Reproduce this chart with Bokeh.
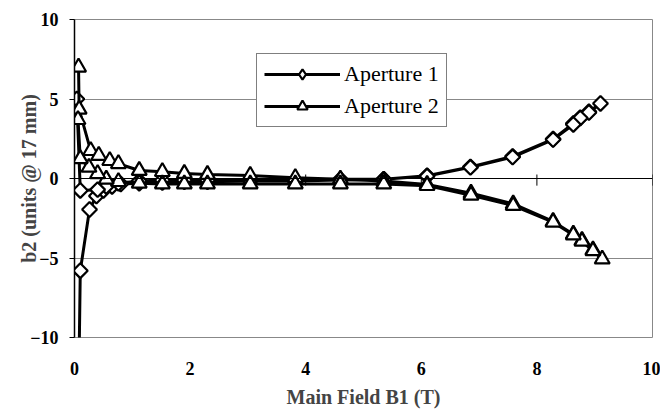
from bokeh.plotting import figure
from bokeh.models import Range1d, FixedTicker, Span, Legend, LegendItem
from bokeh.embed import file_html
from bokeh.resources import INLINE

# Aperture 1 (diamonds): ramp up then ramp down
ap1_x = [0.07, 0.10, 0.26, 0.38, 0.50, 0.65, 0.80, 1.12, 1.52, 1.90, 2.30, 3.04, 3.82, 4.60, 5.35,
         6.10, 6.85, 7.58, 8.28, 8.63, 8.75, 8.90, 9.10,
         8.90, 8.75, 8.63, 8.28, 7.58, 6.85, 6.10, 5.35, 4.60, 3.82, 3.04, 2.30, 1.90, 1.52, 1.12,
         0.76, 0.55, 0.40, 0.10, 0.04]
ap1_y = [-14.0, -5.8, -1.95, -1.1, -0.75, -0.5, -0.35, -0.3, -0.25, -0.2, -0.2, -0.15, -0.15, -0.1, -0.05,
         0.17, 0.73, 1.39, 2.48, 3.46, 3.83, 4.20, 4.72,
         4.15, 3.80, 3.40, 2.45, 1.35, 0.70, 0.15, -0.05, -0.05, -0.1, -0.1, -0.1, -0.1, -0.1, -0.15,
         -0.3, -0.5, -0.7, -0.75, 5.0]

# Aperture 2 (triangles): ramp up then ramp down
ap2_x = [0.07, 0.08, 0.28, 0.42, 0.61, 0.76, 1.12, 1.52, 1.90, 2.30, 3.04, 3.82, 4.60, 5.35,
         6.10, 6.86, 7.59, 8.28, 8.63, 8.78, 8.97, 9.13,
         8.97, 8.78, 8.63, 8.28, 7.59, 6.86, 6.10, 5.35, 4.60, 3.82, 3.04, 2.30, 1.90, 1.52, 1.12,
         0.76, 0.55, 0.40, 0.25, 0.10, 0.06]
ap2_y = [7.0, 4.35, 1.75, 1.45, 1.12, 0.93, 0.5, 0.43, 0.31, 0.25, 0.19, 0.05, -0.05, -0.15,
         -0.37, -0.93, -1.6, -2.7, -3.5, -3.9, -4.5, -5.07,
         -4.55, -3.95, -3.55, -2.75, -1.7, -1.05, -0.45, -0.35, -0.35, -0.35, -0.35, -0.35, -0.35, -0.35, -0.3,
         -0.2, -0.05, 0.3, 0.7, 1.24, 3.7]

x_ticks = [0, 2, 4, 6, 8, 10]
y_ticks = [-10, -5, 0, 5, 10]
series_names = ["Aperture 1", "Aperture 2"]

FONT = "Liberation Serif"

p = figure(width=660, height=410, output_backend="svg", toolbar_location=None,
           x_range=Range1d(0, 10), y_range=Range1d(-10, 10),
           min_border_left=74, min_border_right=8, min_border_top=19, min_border_bottom=68)
p.background_fill_color = "white"
p.border_fill_color = "white"
p.outline_line_color = "#888888"
p.outline_line_width = 1

# grid
p.xgrid.visible = False
p.ygrid.ticker = FixedTicker(ticks=[-5, 5])
p.ygrid.grid_line_color = "#888888"
p.ygrid.grid_line_width = 1

# y axis
p.yaxis.ticker = FixedTicker(ticks=y_ticks)
p.yaxis.axis_line_color = "black"
p.yaxis.axis_line_width = 1.5
p.yaxis.major_tick_line_color = "black"
p.yaxis.major_tick_out = 5
p.yaxis.major_tick_in = 0
p.yaxis.minor_tick_line_color = None
p.yaxis.major_label_text_font = FONT
p.yaxis.major_label_text_font_style = "bold"
p.yaxis.major_label_text_font_size = "18px"
p.yaxis.major_label_text_color = "black"
p.yaxis.major_label_standoff = 11
p.yaxis.axis_label = "b2 (units @ 17 mm)"
p.yaxis.axis_label_text_font = FONT
p.yaxis.axis_label_text_font_style = "bold"
p.yaxis.axis_label_text_font_size = "20px"
p.yaxis.axis_label_standoff = -13

# x axis (labels at bottom, no line/ticks there)
p.xaxis.ticker = FixedTicker(ticks=x_ticks)
p.xaxis.axis_line_color = None
p.xaxis.major_tick_line_color = None
p.xaxis.minor_tick_line_color = None
p.xaxis.major_label_text_font = FONT
p.xaxis.major_label_text_font_style = "bold"
p.xaxis.major_label_text_font_size = "18px"
p.xaxis.major_label_text_color = "black"
p.xaxis.major_label_standoff = 18
p.xaxis.axis_label = "Main Field B1 (T)"
p.xaxis.axis_label_text_font = FONT
p.xaxis.axis_label_text_font_style = "bold"
p.xaxis.axis_label_text_font_size = "20px"
p.xaxis.axis_label_standoff = 8

# zero line with cross ticks
p.add_layout(Span(location=0, dimension="width", line_color="black", line_width=1.2))
p.segment(x0=x_ticks[1:], x1=x_ticks[1:], y0=[-0.45] * 5, y1=[0.25] * 5,
          line_color="black", line_width=1)

# legend proxy for the diamond symbol: sits on Aperture 1's first point (below the frame, clipped)
k1 = p.scatter(x=ap1_x[:1], y=ap1_y[:1], marker="diamond", size=14,
               line_color="black", line_width=2.2, fill_color="white")

# series
l1 = p.line(ap1_x, ap1_y, line_color="black", line_width=3)
m1 = p.scatter(ap1_x, ap1_y, marker="square", angle=0.785398, size=10.5,
               line_color="black", line_width=2.2, fill_color="white")
l2 = p.line(ap2_x, ap2_y, line_color="black", line_width=3)
m2 = p.scatter(ap2_x, ap2_y, marker="triangle", size=15,
               line_color="black", line_width=2.2, fill_color="white")

legend = Legend(items=[LegendItem(label=series_names[0], renderers=[l1, k1]),
                       LegendItem(label=series_names[1], renderers=[l2, m2])],
                location=(182, 210))
legend.label_text_font = FONT
legend.label_text_font_size = "22px"
legend.label_text_color = "black"
legend.glyph_width = 76
legend.glyph_height = 26
legend.label_height = 24
legend.spacing = 6
legend.padding = 7
legend.margin = 0
legend.label_standoff = 4
legend.border_line_color = "black"
legend.border_line_width = 1
legend.background_fill_alpha = 1
p.add_layout(legend, "center")

open("out.html", "w").write(file_html(p, INLINE))
